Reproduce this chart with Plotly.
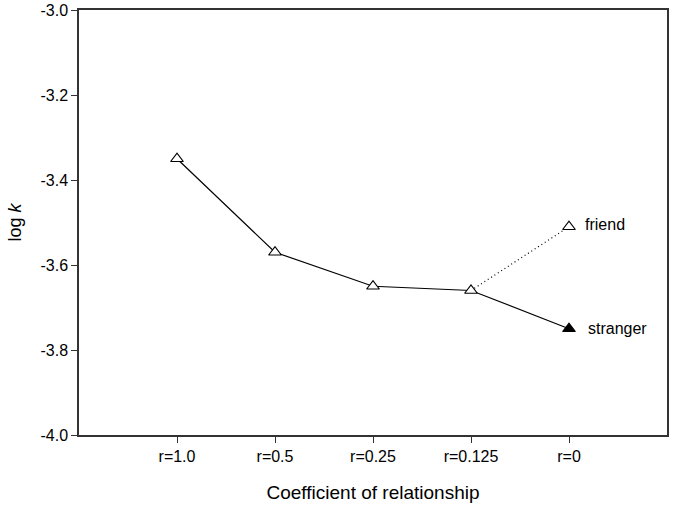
import plotly.graph_objects as go

categories = ["r=1.0", "r=0.5", "r=0.25", "r=0.125", "r=0"]
family_logk = [-3.35, -3.57, -3.65, -3.66]
friend_logk = -3.51
stranger_logk = -3.75
y_ticks = [-4.0, -3.8, -3.6, -3.4, -3.2, -3.0]

xs = list(range(len(categories)))
font = "Liberation Sans, Arial, sans-serif"

fig = go.Figure()
# solid line from family through stranger
fig.add_trace(go.Scatter(x=xs, y=family_logk + [stranger_logk], mode="lines",
                         line=dict(color="black", width=1.2), showlegend=False))
# dotted line to friend
fig.add_trace(go.Scatter(x=[xs[3], xs[4]], y=[family_logk[3], friend_logk], mode="lines",
                         line=dict(color="black", width=1.2, dash="1px,3px"), showlegend=False))
# open triangles
fig.add_trace(go.Scatter(x=xs[:4] + [xs[4]], y=family_logk + [friend_logk], mode="markers",
                         marker=dict(symbol="triangle-up", size=11, color="white",
                                     line=dict(width=1.2, color="black")),
                         showlegend=False))
# filled triangle for stranger
fig.add_trace(go.Scatter(x=[xs[4]], y=[stranger_logk], mode="markers",
                         marker=dict(symbol="triangle-up", size=11, color="black",
                                     line=dict(width=1.2, color="black")),
                         showlegend=False))

fig.add_annotation(x=xs[4], y=friend_logk, text="friend", showarrow=False,
                   xanchor="left", xshift=14, yshift=2, font=dict(family=font, size=16, color="black"))
fig.add_annotation(x=xs[4], y=stranger_logk, text="stranger", showarrow=False,
                   xanchor="left", xshift=17, yshift=0, font=dict(family=font, size=16, color="black"))

fig.update_layout(
    width=674, height=508,
    margin=dict(l=79, r=7, t=10, b=73),
    plot_bgcolor="white", paper_bgcolor="white",
    font=dict(family=font, size=16, color="black"),
    xaxis=dict(range=[-1, 5], tickvals=xs, ticktext=categories, ticks="outside",
               ticklen=6, tickcolor="#333", showgrid=False, zeroline=False, automargin=False,
               tickfont=dict(size=16),
               showline=True, linecolor="#333", linewidth=1.5, mirror=True,
               title=dict(text="Coefficient of relationship", font=dict(size=19), standoff=22)),
    yaxis=dict(range=[-4.0, -3.0], tickvals=y_ticks, ticktext=[f"{v:.1f}" for v in y_ticks],
               ticks="outside", ticklen=6, tickcolor="#333", showgrid=False, zeroline=False,
               automargin=False, tickfont=dict(size=16),
               showline=True, linecolor="#333", linewidth=1.5, mirror=True,
               title=dict(text="log <i>k</i>", font=dict(size=18), standoff=14)),
)

fig.write_html("out.html", config={"displayModeBar": False},
               post_script="document.body.style.margin='0';")
